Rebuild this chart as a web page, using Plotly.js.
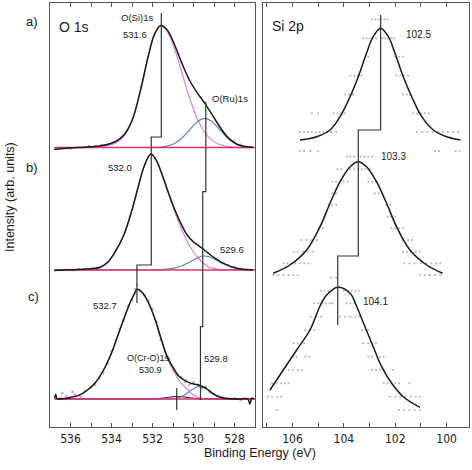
<!DOCTYPE html>
<html>
<head>
<meta charset="utf-8">
<script src="https://cdn.plot.ly/plotly-3.0.1.min.js"></script>
<style>
html,body{margin:0;padding:0;background:#fff;}
#chart{width:472px;height:470px;}
</style>
</head>
<body>
<div id="chart"></div>
<script>
// ---------------- O 1s (binding energy in eV, intensity above each spectrum's baseline, arb. units) ----------------
const oA_x = [536.8,536.2,535.6,535.0,534.6,534.2,533.8,533.4,533.0,532.6,532.2,531.9,531.6,531.3,531.0,530.6,530.2,529.8,529.45,529.1,528.7,528.3,527.9,527.5,527.1];
const oA_env = [-1.8,-0.8,0,0.8,1.6,3,6,12.5,27,56,92,113.3,121.9,117.9,106.5,85.9,67.5,54.1,44.2,33.2,20.2,9.6,3.5,0.9,0.2];
const oA_si  = [0,0,0,0.2,0.7,1.8,4.5,11,26.3,55.6,91.7,113.2,121.5,116.6,103.2,77.2,50,28,15,7.1,2.7,0.9,0.2,0,0];
const oA_ru  = [0,0,0,0,0,0,0,0,0,0,0,0.1,0.4,1.3,3.3,8.7,17.5,26.1,29.2,26.1,17.5,8.7,3.3,0.9,0.2];
const oA_dotX = [536.6,536.3,536.0,535.7,535.4,535.1,534.8,534.5,534.2,533.9,528.0,527.7,527.4,527.2];
const oA_dotY = [-1,-0.5,-1.5,0.5,0,1.5,1,2.5,3,5.5,7,3,1,0];

const oB_x = [536.8,536.0,535.4,535.0,534.6,534.2,533.8,533.4,533.0,532.7,532.4,532.08,531.8,531.5,531.2,530.9,530.6,530.3,530.0,529.75,529.5,529.2,528.9,528.6,528.2,527.7,527.1];
const oB_env = [-0.5,0.3,0.8,1.3,2.5,7.5,19,35,60,83,104,116,109.2,93.5,76.1,59.7,46,34.7,28,24.3,20.5,15.5,11.2,7.3,3.6,0.9,0.1];
const oB_si  = [0,0,0.3,0.6,1.6,7,18.5,34.5,60,83,104,116,109,93,75,57.5,42,28,18,11.5,6.5,2.5,1.2,0.5,0.2,0.1,0];
const oB_ru  = [0,0,0,0,0,0,0,0,0,0,0,0,0.2,0.5,1.1,2.2,4,6.7,10,12.8,14,13,10,6.8,3.4,0.8,0.1];
const oB_dotX = [536.5,536.2,535.9,535.6,535.3,535.0,534.7,528.3,528.0,527.7,527.4,527.2];
const oB_dotY = [0,0.5,-0.5,1,0.5,1.5,2.5,5,3,1.5,0.5,0];

const oC_x = [536.78,536.72,536.66,536.3,536.0,535.6,535.2,534.8,534.4,534.0,533.7,533.4,533.1,532.9,532.74,532.5,532.2,531.9,531.6,531.3,531.0,530.7,530.4,530.1,529.77,529.4,529.0,528.6,528.2,527.8,527.35,527.25,527.15,527.05];
const oC_env = [1,4.5,0.5,0.5,1.7,3.6,8.5,16,28.5,46,63,80,96,104.5,109.7,106.5,96.5,81.2,61.6,43.4,31.6,22.5,18.4,15.5,14.2,10.8,4.7,1.2,0.2,0,0,-5,1,0];
const oC_si  = [0,0,0,0.5,1.7,3.6,8.5,16,28.5,46,63,80,96,104.5,109.7,106.5,96.5,81,61,42,29,18.5,12,5.5,1.5,0.4,0.1,0,0,0,0,0,0,0];
const oC_ru  = [0,0,0,0,0,0,0,0,0,0,0,0,0,0,0,0,0,0,0,0,0.3,1.5,4.5,9,12.3,10.3,4.6,1.2,0.2,0,0,0,0,0];
const oC_cr  = [0,0,0,0,0,0,0,0,0,0,0,0,0,0,0,0,0,0.2,0.6,1.4,2.3,2.5,1.9,1.0,0.4,0.1,0,0,0,0,0,0,0,0];
const oC_dotX = [536.5,536.4,536.2,536.0,535.9,535.8,535.5,535.3,535.0,534.8,534.6,534.4,534.2,534.0,533.8,533.6,533.4,533.2,533.0,532.85,532.75,532.6,532.4,532.2,532.0,531.8,531.6,531.4,531.2,531.0,530.8,530.6,530.4,530.2,530.0,529.8,529.6,529.4,529.2,529.0,528.8,528.6,528.3,528.0,527.7,527.4];
const oC_dotY = [1,6,3,0,7,4.5,2,8,12,14,21,26,35,48,58,70,79,93,99,110,114,108,104,98,90,77,59,47,40,30,24,22,17,14,17,14,11,12,7,5,3,2,0.5,1,-1,0];

const oBaseX = [536.75,527.0];
const oMainLine = [531.57,532.06,532.76];   // drawn peak markers, main O 1s component
const oRuLine   = [529.40,529.55,529.66];   // drawn peak markers, low-BE component
const oCrLine   = 530.82;

// ---------------- Si 2p ----------------
const siA_x = [105.71,105.06,104.54,104.15,103.76,103.44,103.12,102.86,102.57,102.27,102.01,101.69,101.36,100.97,100.52,100.0,99.46];
const siA_fit = [2,5.3,12,25.3,45.3,65.3,88.7,105.3,113.7,105.3,88.7,65.3,45.3,25.3,12,5.3,2];
const siB_x = [106.75,106.1,105.45,104.93,104.54,104.15,103.76,103.44,103.12,102.73,102.34,101.95,101.43,100.78,100.16];
const siB_fit = [3.7,12,27,50.3,73.7,95.3,110.3,115.3,110.3,95.3,73.7,50.3,27,12,3.7];
const siC_x = [106.88,106.36,105.84,105.32,104.93,104.67,104.24,103.76,103.5,103.18,102.86,102.53,102.14,101.69,101.04];
const siC_fit = [22,42,62,82,106,117,124.7,118.7,105.3,85.3,65.3,45.3,28.7,15.3,4.7];

const siA_levels = [122.7,103.7,85.3,66.5,47.5,28.7,10,-9];
const siA_rows = [
 [102.9,102.78,102.66,102.54,102.42,102.3],
 [103.25,103.12,103.0,102.88,102.75,102.5,102.4,102.28,102.15,102.05],
 [103.05,102.0,101.85,101.7],
 [103.75,103.6,103.45,103.32,101.95,101.8,101.65,101.5],
 [103.95,103.8,103.65,101.7,101.55,101.43],
 [105.25,105.0,104.4,104.25,104.1,103.97,101.3,101.15,101.0,100.85,100.7],
 [105.7,105.55,105.4,105.25,105.1,104.95,104.8,104.65,104.5,104.3,101.15,100.95,100.75,100.55,100.35,100.15,99.95,99.75,99.55],
 [105.7,105.55,105.3,105.0,100.45,100.3,99.65,99.5]
];
const siB_levels = [120.3,107.7,95.3,83.7,72,60.3,48.7,37,25.3,13.7,2];
const siB_rows = [
 [103.88,103.75,103.6,103.35,103.2,103.05,102.9],
 [104.25,104.1,103.75,103.6,103.45,103.3,103.15,103.0],
 [104.45,104.3,104.15,104.0,103.85,103.05,102.9,102.75],
 [104.45,104.3,102.8,102.65,102.5],
 [104.6,104.45,104.3,102.35,102.2],
 [104.75,102.3,102.15,102.0],
 [104.95,104.82,102.15,102.0,101.85,101.7],
 [105.65,105.45,105.25,105.05,101.7,101.5,101.35],
 [105.95,105.8,105.6,105.4,105.2,101.7,101.55,101.4,101.2,101.05],
 [106.35,106.2,106.05,105.9,105.7,105.55,105.4,101.65,101.45,101.25,101.0,100.8,100.6,100.4,100.25],
 [106.75,106.55,106.35,106.15,105.95,105.8,101.05,100.85,100.65,100.45,100.25]
];
const siC_levels = [134.3,121.3,108.7,95.3,82,68.7,55.3,42,28.7,15.3,2];
const siC_rows = [
 [104.5,104.3],
 [104.9,104.75,104.6,104.45,104.0,103.85,103.7,103.55,103.4],
 [105.15,105.0,104.85,104.7,104.55,104.45,103.9,103.75,103.6],
 [105.3,105.1,104.9,104.15,103.95,103.75,103.55,103.4],
 [105.5,105.35,105.15,103.3,103.15,103.05],
 [105.95,105.8,105.55,103.25,103.05,102.9,102.75],
 [106.0,105.85,105.5,105.35,103.05,102.9,102.6,102.45],
 [106.15,106.0,105.8,105.65,102.9,102.75,102.6,102.45,102.1],
 [106.8,106.6,106.45,106.3,106.15,102.45,102.3,102.15,102.0,101.85,101.45],
 [106.95,106.8,106.6,106.45,102.2,102.0,101.8,101.6,101.4,101.2,101.05],
 [106.6,101.85,101.65,101.45,101.25,101.05]
];
const siLine = [102.57,103.44,104.24];

// tick labels
const oTickVals = [528,529,530,531,532,533,534,535,536];
const oTickText = ['528','','530','','532','','534','','536'];
const siTickVals = [100,101,102,103,104,105,106,107];
const siTickText = ['100','','102','','104','','106',''];

// ---------------- layout helpers ----------------
const W = 472, H = 470, ML = 50, MR = 3, MT = 3, MB = 43;
const PW = W - ML - MR, PH = H - MT - MB;
const oOff = [279.5, 157, 28];   // vertical stacking of a), b), c)
const siOff = [285, 150, 15];

const C_BLACK = '#1a1a1a', C_SI = '#e27be0', C_RU = '#5a86b8', C_BASE = '#e2306a', C_CR = '#4b2d6e', C_DOT = '#b4b4b4', C_STEP = '#333333';

function curve(x, h, off, color, width, ax) {
  return {x: x, y: h.map(v => v + off), mode: 'lines', type: 'scatter',
    line: {color: color, width: width, shape: 'spline', smoothing: 1},
    xaxis: ax ? 'x2' : 'x', yaxis: ax ? 'y2' : 'y', hoverinfo: 'skip', showlegend: false};
}
function dots(x, h, off, ax, size) {
  return {x: x, y: h.map(v => v + off), mode: 'markers', type: 'scatter',
    marker: {color: C_DOT, size: size || 2, symbol: 'square', line: {width: 0}},
    xaxis: ax ? 'x2' : 'x', yaxis: ax ? 'y2' : 'y', hoverinfo: 'skip', showlegend: false};
}
function poly(x, y, ax, color, width) {
  return {x: x, y: y, mode: 'lines', type: 'scatter', line: {color: color, width: width},
    xaxis: ax ? 'x2' : 'x', yaxis: ax ? 'y2' : 'y', hoverinfo: 'skip', showlegend: false};
}
function rowsToXY(levels, rows) {
  const xs = [], ys = [];
  rows.forEach((r, i) => r.forEach(v => { xs.push(v); ys.push(levels[i]); }));
  return [xs, ys];
}

const traces = [];
// O 1s: data dots
traces.push(dots(oA_dotX, oA_dotY, oOff[0], 0));
traces.push(dots(oB_dotX, oB_dotY, oOff[1], 0));
traces.push(dots(oC_dotX, oC_dotY, oOff[2], 0, 2.3));
// components
traces.push(curve(oA_x, oA_si, oOff[0], C_SI, 1.2, 0));
traces.push(curve(oA_x, oA_ru, oOff[0], C_RU, 1.2, 0));
traces.push(curve(oB_x, oB_si, oOff[1], C_SI, 1.2, 0));
traces.push(curve(oB_x, oB_ru, oOff[1], C_RU, 1.2, 0));
traces.push(curve(oC_x, oC_si, oOff[2], C_SI, 1.2, 0));
traces.push(curve(oC_x, oC_ru, oOff[2], C_RU, 1.2, 0));
traces.push(curve(oC_x, oC_cr, oOff[2], C_CR, 1.2, 0));
// baselines
oOff.forEach(o => traces.push(poly(oBaseX, [o, o], 0, C_BASE, 1.4)));
// envelopes
traces.push(curve(oA_x, oA_env, oOff[0], C_BLACK, 1.5, 0));
traces.push(curve(oB_x, oB_env, oOff[1], C_BLACK, 1.5, 0));
traces.push(curve(oC_x, oC_env, oOff[2], C_BLACK, 1.5, 0));
// peak marker step lines
traces.push(poly([oMainLine[0], oMainLine[0], oMainLine[1], oMainLine[1], oMainLine[2], oMainLine[2]],
                 [414, 290, 290, 162, 162, 124], 0, C_STEP, 1.2));
traces.push(poly([oRuLine[0], oRuLine[0], oRuLine[1], oRuLine[1], oRuLine[2], oRuLine[2]],
                 [325.3, 235.3, 235.3, 100.3, 100.3, 27], 0, C_STEP, 1.2));
traces.push(poly([oCrLine, oCrLine], [39, 17], 0, C_STEP, 1.2));

// Si 2p
[[siA_levels, siA_rows, siOff[0]], [siB_levels, siB_rows, siOff[1]], [siC_levels, siC_rows, siOff[2]]].forEach(s => {
  const xy = rowsToXY(s[0], s[1]);
  traces.push(dots(xy[0], xy[1], s[2], 1, 1.8));
});
traces.push(curve(siA_x, siA_fit, siOff[0], C_BLACK, 1.5, 1));
traces.push(curve(siB_x, siB_fit, siOff[1], C_BLACK, 1.5, 1));
traces.push(curve(siC_x, siC_fit, siOff[2], C_BLACK, 1.5, 1));
traces.push(poly([siLine[0], siLine[0], siLine[1], siLine[1], siLine[2], siLine[2]],
                 [412, 297, 297, 171, 171, 102], 1, C_STEP, 1.2));

// annotations in page pixels
const FONT = 'Liberation Sans, Arial, Helvetica, sans-serif';
function ann(text, px, py, size, xanchor, angle) {
  return {text: text, xref: 'paper', yref: 'paper', x: (px - ML) / PW, y: (H - MB - py) / PH,
    xanchor: xanchor || 'center', yanchor: 'middle', showarrow: false, textangle: angle || 0,
    font: {family: FONT, size: size, color: '#1a1a1a'}};
}
const annotations = [
  ann('a)', 32, 21, 13), ann('b)', 32, 167, 13), ann('c)', 33, 296, 13),
  ann('O 1s', 57, 27, 14, 'left'), ann('Si 2p', 270, 26, 14, 'left'),
  ann('O(Si)1s', 136.7, 17.3, 9.5), ann('531.6', 135.3, 34.7, 9.5),
  ann('O(Ru)1s', 230, 98.3, 9.5),
  ann('532.0', 119.5, 167.3, 9.5), ann('529.6', 231.7, 250, 9.5),
  ann('532.7', 105, 306, 9.5), ann('O(Cr-O)1s', 148.3, 357.5, 9), ann('530.9', 150, 369.5, 9), ann('529.8', 216, 358.5, 9.5),
  ann('102.5', 418.3, 35, 10), ann('103.3', 393.3, 156.7, 10), ann('104.1', 375, 301.7, 10),
  ann('Intensity (arb. units)', 10, 197, 12.5, 'center', -90),
  ann('Binding Energy (eV)', 260, 453, 12.5)
];

const axX = {showline: true, linecolor: '#555', linewidth: 1.3, mirror: 'ticks', ticks: 'inside', ticklen: 4,
  tickwidth: 1, tickcolor: '#555', showgrid: false, zeroline: false,
  tickfont: {family: 'Liberation Sans Narrow, Arial Narrow, DejaVu Sans Condensed, Liberation Sans, sans-serif', size: 12, color: '#1a1a1a'}};
const axY = {showline: true, linecolor: '#555', linewidth: 1.3, mirror: true, ticks: '', showticklabels: false,
  showgrid: false, zeroline: false, range: [0, PH], fixedrange: true};

const layout = {
  width: W, height: H, margin: {l: ML, r: MR, t: MT, b: MB, pad: 0},
  paper_bgcolor: '#fff', plot_bgcolor: '#fff', showlegend: false,
  xaxis: Object.assign({}, axX, {domain: [0, 205 / PW], range: [537, 527], anchor: 'y', tickvals: oTickVals, ticktext: oTickText}),
  yaxis: Object.assign({}, axY, {anchor: 'x', domain: [0, 1]}),
  xaxis2: Object.assign({}, axX, {domain: [213 / PW, 1], range: [107.15, 99.13], anchor: 'y2', tickvals: siTickVals, ticktext: siTickText}),
  yaxis2: Object.assign({}, axY, {anchor: 'x2', domain: [0, 1]}),
  annotations: annotations
};

Plotly.newPlot('chart', traces, layout, {staticPlot: true, displayModeBar: false});
</script>
</body>
</html>
